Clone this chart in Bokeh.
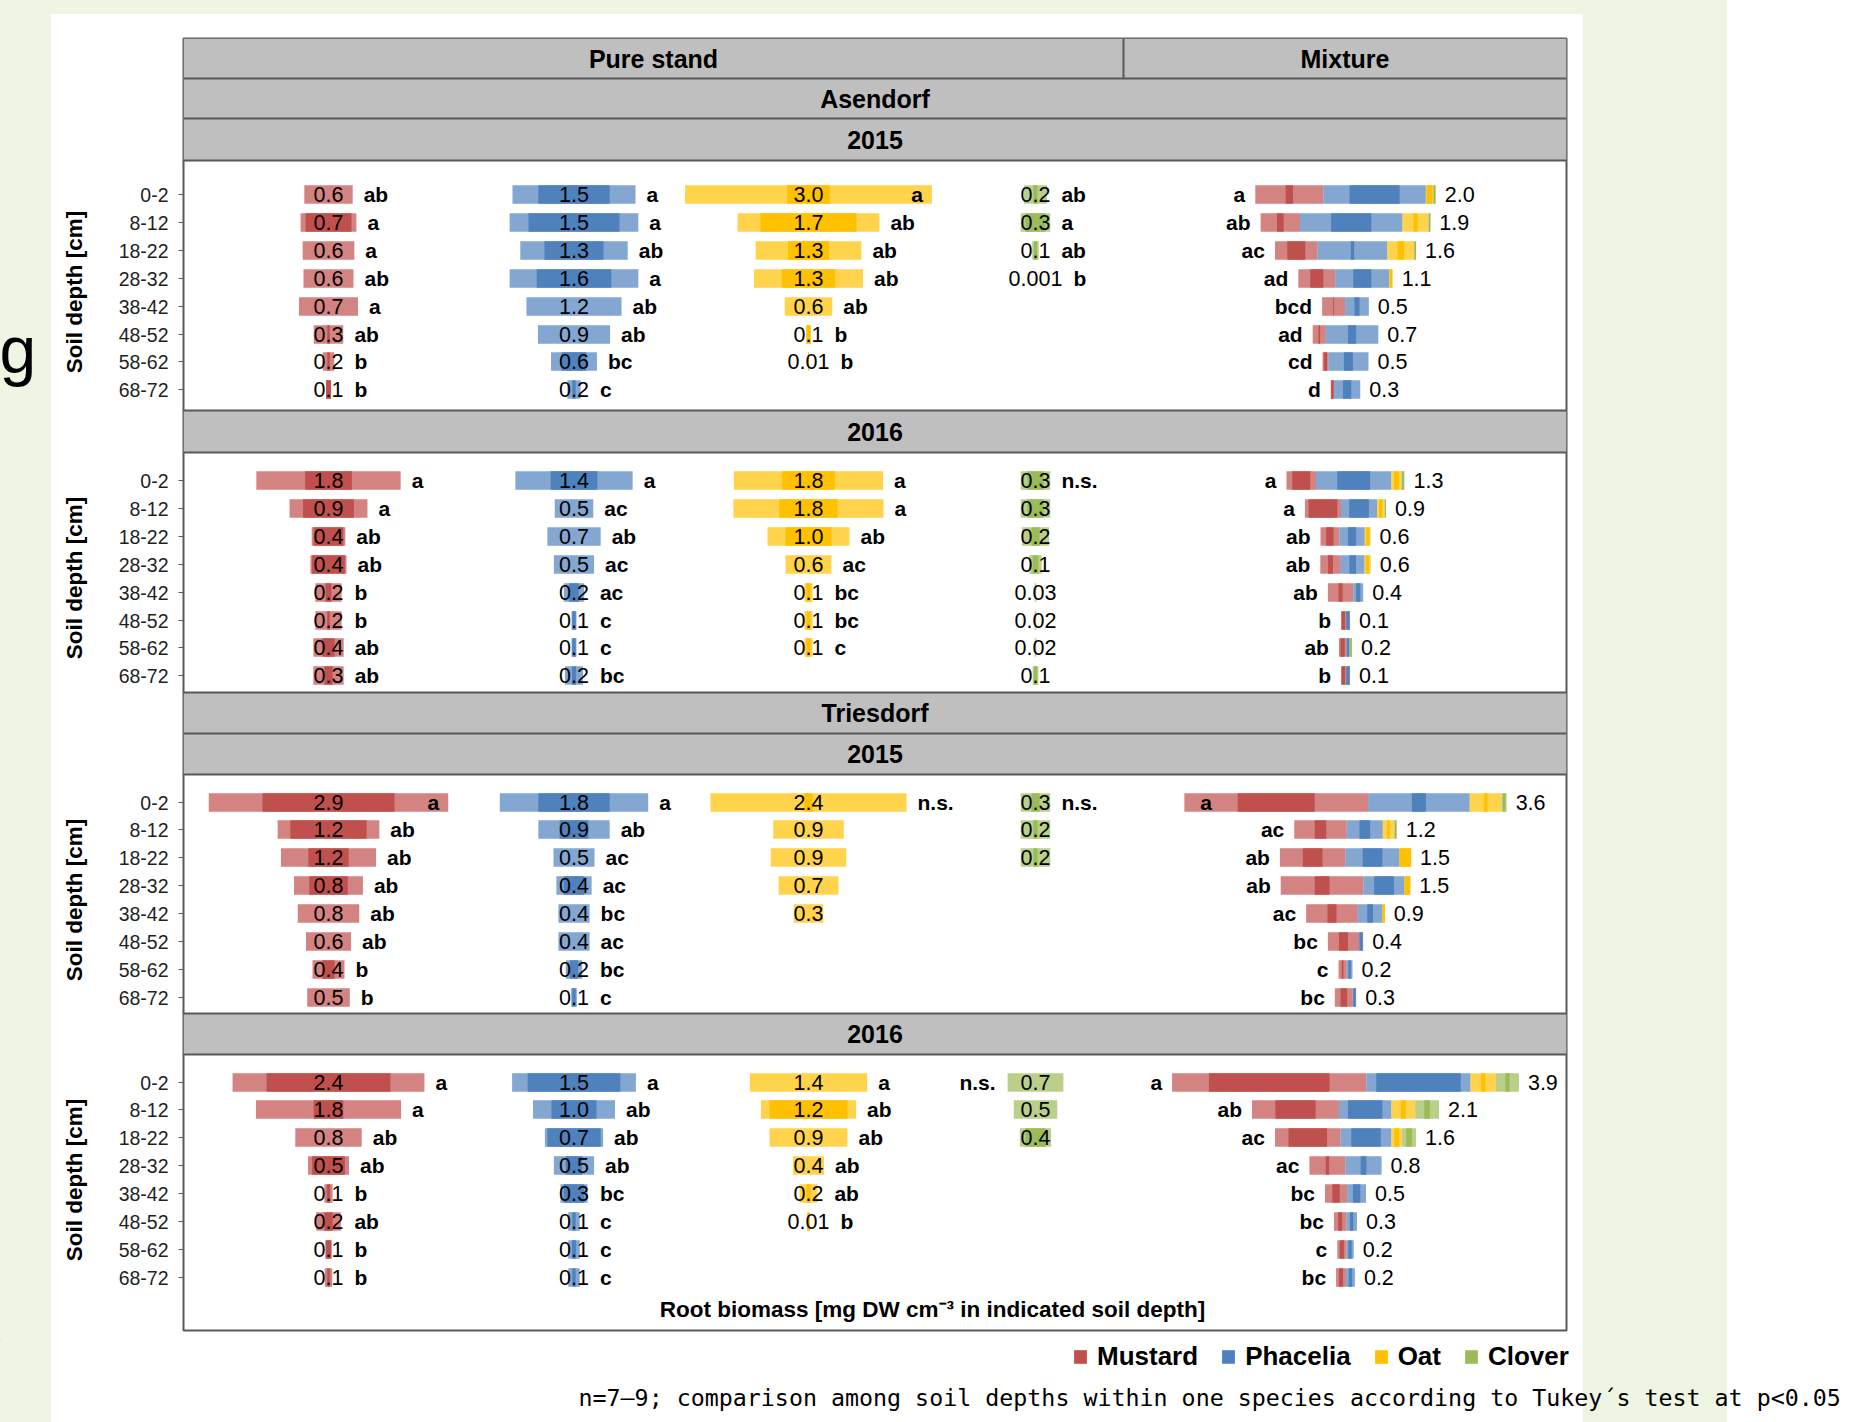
import math
from bokeh.plotting import figure
from bokeh.layouts import column, row
from bokeh.models import Range1d, FixedTicker, Label, Span, Legend, LegendItem, ColumnDataSource
from bokeh.core.properties import value
from bokeh.embed import file_html
from bokeh.resources import INLINE

# ---------------- data ----------------
DEPTHS = ["0-2", "8-12", "18-22", "28-32", "38-42", "48-52", "58-62", "68-72"]
SPECIES = ["Mustard", "Phacelia", "Oat", "Clover"]
COLORS = {"Mustard": "#c0504d", "Phacelia": "#4f81bd", "Oat": "#ffc000", "Clover": "#9bbb59"}

# ---- Asendorf 2015 ----
A15_W = {"Mustard": [0.59, 0.68, 0.63, 0.61, 0.72, 0.36, 0.14, 0.06],
         "Phacelia": [1.50, 1.57, 1.31, 1.57, 1.16, 0.88, 0.56, 0.16],
         "Oat": [3.01, 1.73, 1.29, 1.33, 0.58, 0.06, 0.01, 0],
         "Clover": [0.28, 0.36, 0.08, 0.005, 0, 0, 0, 0]}
A15_IN = {"Mustard": [0, 0.56, 0, 0, 0, 0.03, 0.03, 0.06],
          "Phacelia": [0.87, 1.11, 0.72, 0.91, 0, 0, 0.3, 0.04],
          "Oat": [0.52, 1.17, 0.5, 0.65, 0, 0.05, 0.01, 0],
          "Clover": [0.05, 0.25, 0.04, 0, 0, 0, 0, 0]}
A15_LBL = {"Mustard": ["0.6", "0.7", "0.6", "0.6", "0.7", "0.3", "0.2", "0.1"],
           "Phacelia": ["1.5", "1.5", "1.3", "1.6", "1.2", "0.9", "0.6", "0.2"],
           "Oat": ["3.0", "1.7", "1.3", "1.3", "0.6", "0.1", "0.01", ""],
           "Clover": ["0.2", "0.3", "0.1", "0.001", "", "", "", ""]}
A15_LET = {"Mustard": ["ab", "a", "a", "ab", "a", "ab", "b", "b"],
           "Phacelia": ["a", "a", "ab", "a", "ab", "ab", "bc", "c"],
           "Oat": ["a", "ab", "ab", "ab", "ab", "b", "b", ""],
           "Clover": ["ab", "a", "ab", "b", "", "", "", ""]}
A15_MIX_W = {"Mustard": [0.83, 0.48, 0.52, 0.45, 0.28, 0.16, 0.07, 0.04],
             "Phacelia": [1.25, 1.25, 0.85, 0.66, 0.29, 0.64, 0.49, 0.32],
             "Oat": [0.09, 0.32, 0.33, 0.04, 0, 0, 0, 0],
             "Clover": [0.03, 0.02, 0.02, 0, 0, 0, 0, 0]}
A15_MIX_IN = {"Mustard": [0.09, 0.08, 0.22, 0.16, 0.01, 0.02, 0.04, 0.03],
              "Phacelia": [0.61, 0.49, 0.04, 0.22, 0.06, 0.1, 0.11, 0.1],
              "Oat": [0.07, 0.05, 0.08, 0.03, 0, 0, 0, 0],
              "Clover": [0.02, 0.02, 0.02, 0, 0, 0, 0, 0]}
A15_MIX_TOT = ["2.0", "1.9", "1.6", "1.1", "0.5", "0.7", "0.5", "0.3"]
A15_MIX_LET = ["a", "ab", "ac", "ad", "bcd", "ad", "cd", "d"]

# ---- Asendorf 2016 ----
A16_W = {"Mustard": [1.76, 0.95, 0.41, 0.44, 0.32, 0.32, 0.37, 0.37],
         "Phacelia": [1.43, 0.47, 0.65, 0.49, 0.25, 0.06, 0.06, 0.22],
         "Oat": [1.82, 1.83, 1.0, 0.56, 0.1, 0.1, 0.1, 0],
         "Clover": [0.36, 0.36, 0.33, 0.15, 0.02, 0.02, 0.02, 0.07]}
A16_IN = {"Mustard": [0.57, 0.62, 0.36, 0.4, 0.07, 0.03, 0.15, 0.1],
          "Phacelia": [0.57, 0, 0, 0, 0.12, 0.04, 0.04, 0.05],
          "Oat": [0.64, 0.71, 0.56, 0, 0.05, 0.05, 0.05, 0],
          "Clover": [0.2, 0.2, 0.1, 0.07, 0, 0, 0, 0.04]}
A16_LBL = {"Mustard": ["1.8", "0.9", "0.4", "0.4", "0.2", "0.2", "0.4", "0.3"],
           "Phacelia": ["1.4", "0.5", "0.7", "0.5", "0.2", "0.1", "0.1", "0.2"],
           "Oat": ["1.8", "1.8", "1.0", "0.6", "0.1", "0.1", "0.1", ""],
           "Clover": ["0.3", "0.3", "0.2", "0.1", "0.03", "0.02", "0.02", "0.1"]}
A16_LET = {"Mustard": ["a", "a", "ab", "ab", "b", "b", "ab", "ab"],
           "Phacelia": ["a", "ac", "ab", "ac", "ac", "c", "c", "bc"],
           "Oat": ["a", "a", "ab", "ac", "bc", "bc", "c", ""],
           "Clover": ["n.s.", "", "", "", "", "", "", ""]}
A16_MIX_W = {"Mustard": [0.36, 0.44, 0.23, 0.25, 0.31, 0.06, 0.09, 0.06],
             "Phacelia": [0.92, 0.44, 0.31, 0.29, 0.12, 0.05, 0.04, 0.05],
             "Oat": [0.12, 0.09, 0.07, 0.07, 0, 0, 0, 0],
             "Clover": [0.04, 0.02, 0, 0.005, 0, 0, 0.03, 0]}
A16_MIX_IN = {"Mustard": [0.22, 0.35, 0.09, 0.06, 0.05, 0.04, 0.05, 0.04],
              "Phacelia": [0.4, 0.24, 0.1, 0.08, 0.05, 0.04, 0.03, 0.04],
              "Oat": [0.06, 0.04, 0.04, 0.04, 0, 0, 0, 0],
              "Clover": [0.02, 0.01, 0, 0, 0, 0, 0.02, 0]}
A16_MIX_TOT = ["1.3", "0.9", "0.6", "0.6", "0.4", "0.1", "0.2", "0.1"]
A16_MIX_LET = ["a", "a", "ab", "ab", "ab", "b", "ab", "b"]

# ---- Triesdorf 2015 ----
T15_W = {"Mustard": [2.92, 1.24, 1.16, 0.84, 0.75, 0.55, 0.39, 0.52],
         "Phacelia": [1.81, 0.87, 0.5, 0.43, 0.38, 0.38, 0.2, 0.07],
         "Oat": [2.39, 0.86, 0.92, 0.73, 0.36, 0, 0, 0],
         "Clover": [0.36, 0.36, 0.36, 0, 0, 0, 0, 0]}
T15_IN = {"Mustard": [1.61, 0.93, 0.49, 0.47, 0, 0, 0.15, 0],
          "Phacelia": [0.87, 0.35, 0, 0.25, 0, 0, 0.1, 0.04],
          "Oat": [0.1, 0, 0, 0, 0, 0, 0, 0],
          "Clover": [0.1, 0.05, 0.05, 0, 0, 0, 0, 0]}
T15_LBL = {"Mustard": ["2.9", "1.2", "1.2", "0.8", "0.8", "0.6", "0.4", "0.5"],
           "Phacelia": ["1.8", "0.9", "0.5", "0.4", "0.4", "0.4", "0.2", "0.1"],
           "Oat": ["2.4", "0.9", "0.9", "0.7", "0.3", "", "", ""],
           "Clover": ["0.3", "0.2", "0.2", "", "", "", "", ""]}
T15_LET = {"Mustard": ["a", "ab", "ab", "ab", "ab", "ab", "b", "b"],
           "Phacelia": ["a", "ab", "ac", "ac", "bc", "ac", "bc", "c"],
           "Oat": ["n.s.", "", "", "", "", "", "", ""],
           "Clover": ["n.s.", "", "", "", "", "", "", ""]}
T15_MIX_W = {"Mustard": [2.24, 0.64, 0.8, 1.01, 0.63, 0.38, 0.1, 0.22],
             "Phacelia": [1.24, 0.44, 0.66, 0.5, 0.3, 0.05, 0.07, 0.04],
             "Oat": [0.39, 0.14, 0.14, 0.07, 0.03, 0, 0, 0],
             "Clover": [0.06, 0.03, 0, 0, 0, 0, 0, 0]}
T15_MIX_IN = {"Mustard": [0.94, 0.14, 0.24, 0.18, 0.11, 0.11, 0.02, 0.08],
              "Phacelia": [0.17, 0.13, 0.24, 0.24, 0.07, 0.04, 0.03, 0.03],
              "Oat": [0.04, 0.03, 0.14, 0.07, 0.03, 0, 0, 0],
              "Clover": [0.03, 0.02, 0, 0, 0, 0, 0, 0]}
T15_MIX_TOT = ["3.6", "1.2", "1.5", "1.5", "0.9", "0.4", "0.2", "0.3"]
T15_MIX_LET = ["a", "ac", "ab", "ab", "ac", "bc", "c", "bc"]

# ---- Triesdorf 2016 ----
T16_W = {"Mustard": [2.34, 1.77, 0.81, 0.5, 0.1, 0.3, 0.07, 0.09],
         "Phacelia": [1.51, 1.0, 0.71, 0.49, 0.33, 0.14, 0.14, 0.14],
         "Oat": [1.43, 1.16, 0.95, 0.38, 0.22, 0.03, 0, 0],
         "Clover": [0.68, 0.53, 0.38, 0, 0, 0, 0, 0]}
T16_IN = {"Mustard": [1.51, 0.36, 0, 0.4, 0.04, 0.1, 0.07, 0.03],
          "Phacelia": [1.13, 0.55, 0.65, 0.2, 0.25, 0.04, 0.05, 0.04],
          "Oat": [0, 0.95, 0, 0, 0.05, 0.03, 0, 0],
          "Clover": [0, 0, 0.25, 0, 0, 0, 0, 0]}
T16_LBL = {"Mustard": ["2.4", "1.8", "0.8", "0.5", "0.1", "0.2", "0.1", "0.1"],
           "Phacelia": ["1.5", "1.0", "0.7", "0.5", "0.3", "0.1", "0.1", "0.1"],
           "Oat": ["1.4", "1.2", "0.9", "0.4", "0.2", "0.01", "", ""],
           "Clover": ["0.7", "0.5", "0.4", "", "", "", "", ""]}
T16_LET = {"Mustard": ["a", "a", "ab", "ab", "b", "ab", "b", "b"],
           "Phacelia": ["a", "ab", "ab", "ab", "bc", "c", "c", "c"],
           "Oat": ["a", "ab", "ab", "ab", "ab", "b", "", ""],
           "Clover": ["n.s.", "", "", "", "", "", "", ""]}
T16_MIX_W = {"Mustard": [2.37, 1.06, 0.8, 0.44, 0.27, 0.15, 0.11, 0.12],
             "Phacelia": [1.27, 0.64, 0.62, 0.44, 0.23, 0.13, 0.09, 0.11],
             "Oat": [0.31, 0.29, 0.13, 0, 0, 0, 0, 0],
             "Clover": [0.28, 0.29, 0.17, 0, 0, 0, 0, 0]}
T16_MIX_IN = {"Mustard": [1.47, 0.49, 0.47, 0.04, 0.09, 0.05, 0.05, 0.05],
              "Phacelia": [1.03, 0.42, 0.36, 0.07, 0.09, 0.04, 0.04, 0.04],
              "Oat": [0.05, 0.06, 0.06, 0, 0, 0, 0, 0],
              "Clover": [0.05, 0.07, 0.07, 0, 0, 0, 0, 0]}
T16_MIX_TOT = ["3.9", "2.1", "1.6", "0.8", "0.5", "0.3", "0.2", "0.2"]
T16_MIX_LET = ["a", "ab", "ac", "ac", "bc", "bc", "c", "bc"]

PANELS = ["A15", "A16", "T15", "T16"]
PANEL_DATA = {
    "A15": (A15_W, A15_IN, A15_LBL, A15_LET, A15_MIX_W, A15_MIX_IN, A15_MIX_TOT, A15_MIX_LET),
    "A16": (A16_W, A16_IN, A16_LBL, A16_LET, A16_MIX_W, A16_MIX_IN, A16_MIX_TOT, A16_MIX_LET),
    "T15": (T15_W, T15_IN, T15_LBL, T15_LET, T15_MIX_W, T15_MIX_IN, T15_MIX_TOT, T15_MIX_LET),
    "T16": (T16_W, T16_IN, T16_LBL, T16_LET, T16_MIX_W, T16_MIX_IN, T16_MIX_TOT, T16_MIX_LET),
}
LET_INSIDE = {("A15", "Oat", 0), ("T15", "Mustard", 0), ("T15", "Mixture", 0)}
LET_LEFT = {("T16", "Clover", 0)}

FOOTNOTE = "n=7\u20139; comparison among soil depths within one species according to Tukey\u00b4s test at p<0.05"
XLABEL = "Root biomass [mg DW cm\u207b\u00b3 in indicated soil depth]"

# ---------------- layout ----------------
K = 82.0                      # px per biomass unit
FL, FR, FT, FB = 183.0, 1566.0, 38.0, 1330.0
W_PAGE, H_PAGE = 1870, 1422
LEFT_W = 100                  # width of the left strip figure
MAIN_H = 1340                 # height of the upper row


def X(px):
    return (px - FL) / K


CENTER = {"Mustard": X(328), "Phacelia": X(573.5), "Oat": X(808), "Clover": X(1035), "Mixture": X(1345)}
FIRST_ROW = {"A15": 194, "A16": 480, "T15": 801.5, "T16": 1081.5}
PITCH = 27.9
BAR_H = 18.5
HEADER_ROWS = [(38, 78), (78, 118), (118, 160), (410, 452), (692, 733), (733, 774), (1013, 1054)]
HEADER_TEXT = [("Pure stand", 653, 58), ("Mixture", 1344.5, 58), ("Asendorf", 874.5, 98),
               ("2015", 874.5, 139), ("2016", 874.5, 431), ("Triesdorf", 874.5, 712.5),
               ("2015", 874.5, 753.5), ("2016", 874.5, 1033.5)]
H_LINES = [78, 118, 160, 410, 452, 692, 733, 774, 1013, 1054]
LINE_C = "#595959"
FONT = "Liberation Sans"


def rows_of(k):
    return [int(round(FIRST_ROW[k] + i * PITCH)) for i in range(len(DEPTHS))]


def tw(s, size=21.5):
    return sum(0.556 if ch.isdigit() else 0.278 for ch in s) * size / K


light = {s: dict(y=[], left=[], right=[]) for s in SPECIES}
dark = {s: dict(y=[], left=[], right=[]) for s in SPECIES}
vals = dict(x=[], y=[], text=[])
let_l = dict(x=[], y=[], text=[])
let_r = dict(x=[], y=[], text=[])
tots = dict(x=[], y=[], text=[])


def push(d, x, y, t):
    d["x"].append(x); d["y"].append(y); d["text"].append(t)


def add_bar(s, y, cx, w, win):
    if w > 0:
        light[s]["y"].append(y); light[s]["left"].append(cx - w / 2); light[s]["right"].append(cx + w / 2)
    if win > 0:
        dark[s]["y"].append(y); dark[s]["left"].append(cx - win / 2); dark[s]["right"].append(cx + win / 2)


ticks, overrides = [], {}
for k in PANELS:
    Wd, IN, LBL, LET, MW, MIN, MT, ML = PANEL_DATA[k]
    ys = rows_of(k)
    for i, y in enumerate(ys):
        ticks.append(y)
        overrides[y] = DEPTHS[i]
    for s in SPECIES:
        c = CENTER[s]
        for i, y in enumerate(ys):
            w = Wd[s][i]
            add_bar(s, y, c, w, IN[s][i])
            lbl = LBL[s][i]
            if lbl:
                push(vals, c, y, lbl)
            let = LET[s][i]
            if let:
                half = max(w / 2, tw(lbl) / 2)
                key = (k, s, i)
                if key in LET_INSIDE:
                    push(let_r, c + w / 2 - 9 / K, y, let)
                elif key in LET_LEFT:
                    push(let_r, c - half - 12 / K, y, let)
                else:
                    push(let_l, c + half + 11 / K, y, let)
    c = CENTER["Mixture"]
    for i, y in enumerate(ys):
        total = sum(MW[s][i] for s in SPECIES)
        x0 = c - total / 2
        for s in SPECIES:
            w = MW[s][i]
            add_bar(s, y, x0 + w / 2, w, MIN[s][i])
            x0 += w
        if (k, "Mixture", i) in LET_INSIDE:
            push(let_l, c - total / 2 + 16 / K, y, ML[i])
        else:
            push(let_r, c - total / 2 - 10 / K, y, ML[i])
        push(tots, c + total / 2 + 9 / K, y, MT[i])


def bare(fig):
    fig.border_fill_color = None
    fig.background_fill_color = None
    fig.outline_line_color = None
    fig.xgrid.visible = False
    fig.ygrid.visible = False


# ---------------- main figure ----------------
p = figure(width=W_PAGE - LEFT_W, height=MAIN_H, output_backend="svg", toolbar_location=None,
           title_location=None,
           x_range=Range1d(0, X(FR)), y_range=Range1d(FB, FT),
           x_axis_location=None, y_axis_location="left",
           min_border_left=int(FL - LEFT_W), min_border_right=int(W_PAGE - FR),
           min_border_top=int(FT), min_border_bottom=int(MAIN_H - FB))
p.border_fill_color = None
p.background_fill_color = "white"
p.outline_line_color = LINE_C
p.outline_line_width = 2
p.xgrid.visible = False
p.ygrid.visible = False

ax = p.yaxis[0]
ax.ticker = FixedTicker(ticks=ticks)
ax.major_label_overrides = overrides
ax.axis_line_color = None
ax.major_tick_line_color = LINE_C
ax.major_tick_out = 5
ax.major_tick_in = 0
ax.minor_tick_line_color = None
ax.major_label_standoff = 10
ax.major_label_text_font = FONT
ax.major_label_text_font_size = "19.5px"
ax.major_label_text_color = "#1f1f1f"

# header bands
p.quad(left=[0] * len(HEADER_ROWS), right=[X(FR)] * len(HEADER_ROWS),
       top=[a for a, b in HEADER_ROWS], bottom=[b for a, b in HEADER_ROWS],
       fill_color="#bfbfbf", line_color=None)
p.segment(x0=[X(1123)], y0=[38], x1=[X(1123)], y1=[78], line_color=LINE_C, line_width=2)
for yl in H_LINES:
    p.add_layout(Span(location=yl, dimension="width", line_color=LINE_C, line_width=2))
p.text(x=[X(t[1]) for t in HEADER_TEXT], y=[t[2] for t in HEADER_TEXT], text=[t[0] for t in HEADER_TEXT],
       text_font=value(FONT), text_font_style="bold", text_font_size=value("25px"),
       text_align="center", text_baseline="middle", text_color="black")

# bars
for s in SPECIES:
    p.hbar(y="y", left="left", right="right", height=BAR_H, source=ColumnDataSource(light[s]),
           fill_color=COLORS[s], fill_alpha=0.7, line_color=None)
for s in SPECIES:
    p.hbar(y="y", left="left", right="right", height=BAR_H, source=ColumnDataSource(dark[s]),
           fill_color=COLORS[s], fill_alpha=1.0, line_color=None)

# texts
p.text(x="x", y="y", text="text", source=ColumnDataSource(vals), text_font=value(FONT),
       text_font_size=value("21.5px"), text_align="center", text_baseline="middle", text_color="black")
p.text(x="x", y="y", text="text", source=ColumnDataSource(tots), text_font=value(FONT),
       text_font_size=value("21.5px"), text_align="left", text_baseline="middle", text_color="black")
p.text(x="x", y="y", text="text", source=ColumnDataSource(let_l), text_font=value(FONT),
       text_font_style="bold", text_font_size=value("21px"), text_align="left", text_baseline="middle",
       text_color="black")
p.text(x="x", y="y", text="text", source=ColumnDataSource(let_r), text_font=value(FONT),
       text_font_style="bold", text_font_size=value("21px"), text_align="right", text_baseline="middle",
       text_color="black")
p.add_layout(Label(x=X(932), y=1309, text=XLABEL, text_align="center", text_baseline="middle",
                   text_font=FONT, text_font_style="bold", text_font_size="22.5px", text_color="black"))

# ---------------- left strip (axis titles) ----------------
# its frame is aligned with the main frame by the row layout, so it shares the same y mapping
pl = figure(width=LEFT_W, height=MAIN_H, output_backend="svg", toolbar_location=None,
            title_location=None,
            x_range=Range1d(0, LEFT_W), y_range=Range1d(FB, FT),
            x_axis_location=None, y_axis_location=None,
            min_border_left=0, min_border_right=0, min_border_top=int(FT), min_border_bottom=int(MAIN_H - FB))
bare(pl)
for k in PANELS:
    ys = rows_of(k)
    pl.add_layout(Label(x=74, y=(ys[0] + ys[-1]) / 2, text="Soil depth [cm]", angle=math.pi / 2,
                        text_align="center", text_baseline="middle", text_font=FONT,
                        text_font_style="bold", text_font_size="22.5px", text_color="black"))
pl.add_layout(Label(x=-1, y=349, text="g", text_align="left", text_baseline="alphabetic",
                    text_font=FONT, text_font_size="66px", text_color="black"))

# ---------------- bottom strip (legend + note) ----------------
BOT_H = H_PAGE - MAIN_H
pb = figure(width=W_PAGE, height=BOT_H, output_backend="svg", toolbar_location=None,
            title_location=None,
            x_range=Range1d(0, W_PAGE), y_range=Range1d(H_PAGE, MAIN_H),
            x_axis_location=None, y_axis_location=None,
            min_border_left=0, min_border_right=0, min_border_top=0, min_border_bottom=0)
bare(pb)
# legend swatches: one off-screen bar per species so the legend has a glyph to draw
leg_r = {s: pb.hbar(y=[-5000], left=[-5000], right=[-4999], height=1, fill_color=COLORS[s], line_color=None)
         for s in SPECIES}
legend = Legend(items=[LegendItem(label=value(s), renderers=[leg_r[s]]) for s in SPECIES],
                orientation="horizontal", location=(1072, H_PAGE - 1372),
                background_fill_alpha=0, border_line_color=None, padding=0, margin=0, spacing=22,
                label_standoff=9, glyph_width=16, glyph_height=17, label_height=17,
                label_text_font=FONT, label_text_font_style="bold", label_text_font_size="26px",
                label_text_color="black")
pb.add_layout(legend)
pb.add_layout(Label(x=578, y=1397, text=FOOTNOTE, text_align="left", text_baseline="middle",
                    text_font="DejaVu Sans Mono", text_font_size="23.3px", text_color="black"))

page = column(row(pl, p, spacing=0), pb, spacing=0,
              styles={"background": "linear-gradient(#ffffff,#ffffff) 51px 14px / 1532px 1408px no-repeat, "
                                    "linear-gradient(#eef5e3,#eef5e3) 0px 0px / 1727px 1422px no-repeat, #ffffff"})

open("out.html", "w").write(file_html(page, INLINE))
